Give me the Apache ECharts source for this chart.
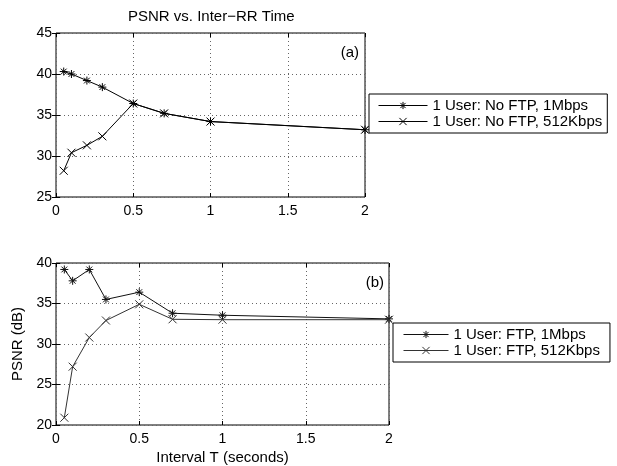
<!DOCTYPE html>
<html>
<head>
<meta charset="utf-8">
<script src="https://cdn.jsdelivr.net/npm/echarts@6/dist/echarts.min.js"></script>
<style>
html,body{margin:0;padding:0;background:#fff;}
#c{width:617px;height:466px;}
</style>
</head>
<body>
<div id="c"></div>
<script>
// ---- data ----
const intervals = [0.05, 0.1, 0.2, 0.3, 0.5, 0.7, 1, 2];
const noFtp1M   = [40.3, 40.0, 39.2, 38.4, 36.4, 35.2, 34.2, 33.2];
const noFtp512K = [28.2, 30.4, 31.3, 32.4, 36.4, 35.2, 34.2, 33.2];
const ftp1M     = [39.2, 37.8, 39.2, 35.5, 36.4, 33.8, 33.55, 33.1];
const ftp512K   = [20.9, 27.2, 30.8, 32.9, 34.9, 33.05, 33.0, 33.0];
const xTicks = [0, 0.5, 1, 1.5, 2];
const names = ['1 User: No FTP, 1Mbps', '1 User: No FTP, 512Kbps', '1 User: FTP, 1Mbps', '1 User: FTP, 512Kbps'];

const FONT = '"Liberation Sans", Arial, Helvetica, sans-serif';
const STAR = 'path://M0,-5 L0,5 M-5,0 L5,0 M-3.6,-3.6 L3.6,3.6 M-3.6,3.6 L3.6,-3.6';
const CROSS = 'path://M-5,-5 L5,5 M-5,5 L5,-5';

function pairs(xs, ys){ return xs.map((x,i)=>[x, ys[i]]); }

function xAxes(gi, nameTxt){
  const base = {
    type:'value', gridIndex:gi, min:0, max:2, interval:0.5,
    axisLine:{show:false},
    axisTick:{show:true, inside:true, length:4, lineStyle:{color:'#000'}},
  };
  return [
    Object.assign({}, base, {
      position:'bottom',
      axisLabel:{show:true, color:'#000', fontFamily:FONT, fontSize:14, margin:7,
        formatter: v => xTicks.includes(v) ? String(v) : ''},
      splitLine:{show:true, lineStyle:{type:[1,3], color:'#666', width:1}},
      name: nameTxt || '', nameLocation:'middle', nameGap:25,
      nameTextStyle:{color:'#000', fontFamily:FONT, fontSize:15}
    }),
    Object.assign({}, base, {position:'top', axisLabel:{show:false}, splitLine:{show:false}})
  ];
}
function yAxes(gi, mn, mx, nameTxt){
  const base = {
    type:'value', gridIndex:gi, min:mn, max:mx, interval:5,
    axisLine:{show:false},
    axisTick:{show:true, inside:true, length:4, lineStyle:{color:'#000'}},
  };
  return [
    Object.assign({}, base, {
      position:'left',
      axisLabel:{show:true, color:'#000', fontFamily:FONT, fontSize:14, margin:4},
      splitLine:{show:true, lineStyle:{type:[1,3], color:'#666', width:1}},
      name: nameTxt || '', nameLocation:'middle', nameGap:30, nameRotate:90,
      nameTextStyle:{color:'#000', fontFamily:FONT, fontSize:15}
    }),
    Object.assign({}, base, {position:'right', axisLabel:{show:false}, splitLine:{show:false}})
  ];
}

function series(name, xi, yi, ys, sym, color){
  return {
    name, type:'line', xAxisIndex:xi, yAxisIndex:yi,
    data: pairs(intervals, ys),
    symbol: sym, symbolSize: 8, showSymbol:true,
    lineStyle:{color:color, width:1},
    itemStyle:{color:color, borderColor:color, borderWidth:1},
    emphasis:{disabled:true}, animation:false, z:3
  };
}

const legendCommon = {
  orient:'vertical', backgroundColor:'#fff', borderColor:'#000', borderWidth:1,
  itemHeight:9, itemGap:1,
  lineStyle:{width:1},
  itemStyle:{borderWidth:1},
  textStyle:{color:'#000', fontFamily:FONT, fontSize:15},
  selectedMode:false
};

const chart = echarts.init(document.getElementById('c'), null, {renderer:'canvas'});
chart.setOption({
  animation:false,
  backgroundColor:'#fff',
  grid:[
    {left:56, top:33, width:309, height:164, show:true, borderColor:'#000', borderWidth:1, backgroundColor:'transparent'},
    {left:56, top:263, width:333, height:163, show:true, borderColor:'#000', borderWidth:1, backgroundColor:'transparent'}
  ],
  xAxis: [...xAxes(0, ''), ...xAxes(1, 'Interval T (seconds)')],
  yAxis: [...yAxes(0, 25, 45, ''), ...yAxes(1, 20, 40, 'PSNR (dB)')],
  legend:[
    Object.assign({}, legendCommon, {left:369, top:94, itemWidth:49, padding:[4,5,4,9], data:[names[0], names[1]]}),
    Object.assign({}, legendCommon, {left:393, top:323, itemWidth:45, padding:[4,10,4,10], data:[names[2], names[3]]})
  ],
  series:[
    series(names[0], 0, 0, noFtp1M, STAR, '#000'),
    series(names[1], 0, 0, noFtp512K, CROSS, '#000'),
    series(names[2], 2, 2, ftp1M, STAR, '#111'),
    series(names[3], 2, 2, ftp512K, CROSS, '#333')
  ],
  graphic:[
    {type:'text', left:128, top:9, style:{text:'PSNR vs. Inter\u2212RR Time', fill:'#000', font:'15px '+FONT}},
    {type:'text', right:617-359, top:45, style:{text:'(a)', fill:'#000', font:'15px '+FONT}},
    {type:'text', right:617-384, top:275, style:{text:'(b)', fill:'#000', font:'15px '+FONT}}
  ]
});
</script>
</body>
</html>
